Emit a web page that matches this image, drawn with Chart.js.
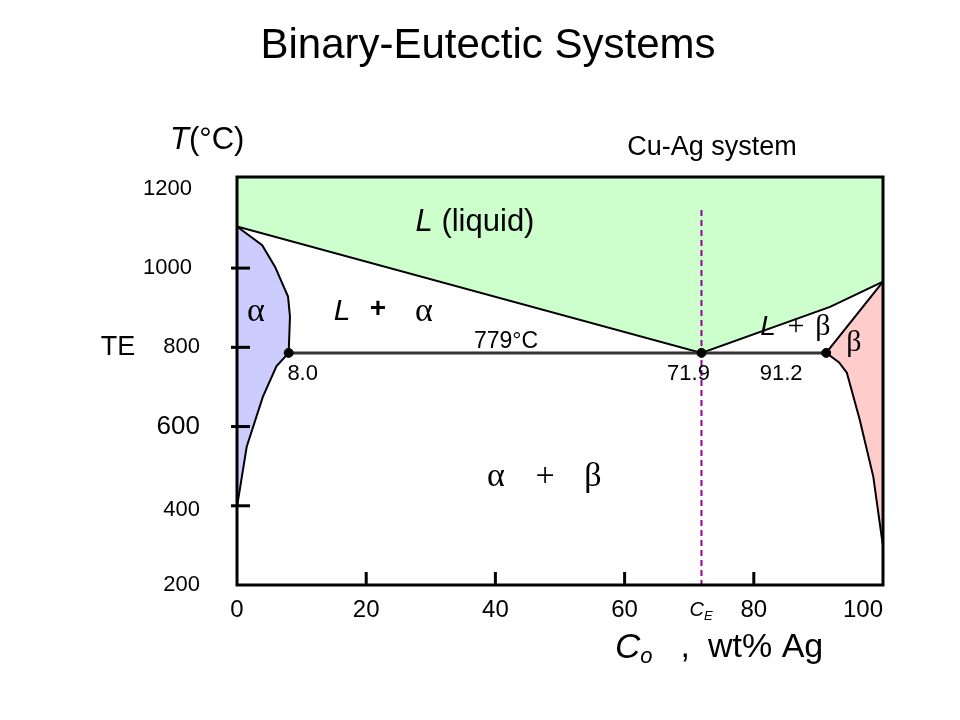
<!DOCTYPE html>
<html>
<head>
<meta charset="utf-8">
<script src="https://cdn.jsdelivr.net/npm/chart.js@4.4.0/dist/chart.umd.min.js"></script>
<style>
  html, body { margin: 0; padding: 0; background: #fff; }
</style>
</head>
<body>
<canvas id="phaseChart" width="960" height="720"></canvas>
<script>
// Cu-Ag phase diagram (wt% Ag, °C)
const liquidusWt = [0, 71.9, 91.8, 100];
const liquidusT = [1105, 786, 902, 966];

const alphaWt = [0, 3.9, 5.9, 7.9, 8.2, 8.0, 6.1, 4.0, 1.5, 0, 0];
const alphaT = [1105, 1058, 1003, 928, 878, 786, 752, 675, 549, 397, 1105];

const betaWt = [100, 91.2, 93.2, 94.4, 96.4, 98.5, 99.8, 100, 100];
const betaT = [966, 786, 762, 736, 617, 473, 321, 300, 966];

const eutecticWt = [8.0, 71.9, 91.2];
const eutecticT = 786;
const ceLineT = [1147, 200];

const xTicks = [0, 20, 40, 60, 80, 100];
const xTickMarks = [20, 40, 60, 80];
const yTicks = [200, 400, 600, 800, 1000, 1200];
const yTickMarks = [400, 600, 800, 1000];

const SANS = '"Liberation Sans", Arial, sans-serif';
const SERIF = '"Liberation Serif", "Times New Roman", serif';

function toPoints(xs, ys) {
    return xs.map((x, i) => ({ x: x, y: Array.isArray(ys) ? ys[i] : ys }));
}

// draws a row of text pieces with different fonts, centred on x
function drawRuns(ctx, x, y, runs, align) {
    let total = 0;
    runs.forEach(r => {
        ctx.font = r.font;
        r.w = ctx.measureText(r.text).width;
        total += r.w + (r.gap || 0);
    });
    let cx = align === 'left' ? x : x - total / 2;
    runs.forEach(r => {
        ctx.font = r.font;
        ctx.fillText(r.text, cx, y + (r.dy || 0));
        cx += r.w + (r.gap || 0);
    });
}

const diagramText = {
    id: 'diagramText',
    afterDraw(chart) {
        const ctx = chart.ctx;
        const area = chart.chartArea;
        const xs = chart.scales.x;
        const ys = chart.scales.y;
        ctx.save();
        ctx.fillStyle = '#000';
        ctx.strokeStyle = '#000';
        ctx.textBaseline = 'middle';
        ctx.textAlign = 'left';

        // frame
        ctx.lineWidth = 3;
        ctx.strokeRect(area.left, area.top, area.right - area.left, area.bottom - area.top);

        // tick marks
        yTickMarks.forEach(v => {
            const py = ys.getPixelForValue(v);
            ctx.beginPath();
            ctx.moveTo(area.left - 6, py);
            ctx.lineTo(area.left + 13, py);
            ctx.stroke();
        });
        xTickMarks.forEach(v => {
            const px = xs.getPixelForValue(v);
            ctx.beginPath();
            ctx.moveTo(px, area.bottom);
            ctx.lineTo(px, area.bottom - 13);
            ctx.stroke();
        });

        // tick labels
        ctx.textAlign = 'right';
        yTicks.forEach(v => {
            ctx.font = (v === 600 ? '26px ' : '22px ') + SANS;
            const right = v >= 1000 ? 192 : 200;
            ctx.fillText(String(v), right, ys.getPixelForValue(v) + (v === 400 ? 4 : 0));
        });
        xTicks.forEach((v, i) => {
            ctx.font = '24px ' + SANS;
            ctx.textAlign = i === xTicks.length - 1 ? 'right' : 'center';
            const px = i === xTicks.length - 1 ? area.right : xs.getPixelForValue(v);
            ctx.fillText(String(v), px, area.bottom + 25);
        });
        ctx.textAlign = 'left';

        // C_E under the dashed line
        drawRuns(ctx, xs.getPixelForValue(eutecticWt[1]) - 12, area.bottom + 25, [
            { text: 'C', font: 'italic 20px ' + SANS },
            { text: 'E', font: 'italic 13px ' + SANS, dy: 6 }
        ], 'left');

        // title and captions
        ctx.font = '42px ' + SANS;
        ctx.textAlign = 'center';
        ctx.fillText('Binary-Eutectic Systems', 488, 46);
        ctx.font = '27px ' + SANS;
        ctx.fillText('Cu-Ag system', 712, 148);
        ctx.fillText('TE', 118, 348);
        ctx.textAlign = 'left';

        drawRuns(ctx, 170, 140, [
            { text: 'T', font: 'italic 31px ' + SANS },
            { text: '(°C)', font: '31px ' + SANS }
        ], 'left');

        drawRuns(ctx, 615, 648, [
            { text: 'C', font: 'italic 35px ' + SANS },
            { text: 'o', font: 'italic 22px ' + SANS, dy: 9, gap: 28 },
            { text: ',', font: '34px ' + SANS, gap: 18 },
            { text: 'wt% Ag', font: '34px ' + SANS }
        ], 'left');

        // region labels
        drawRuns(ctx, 475, 222, [
            { text: 'L', font: 'italic 31px ' + SANS },
            { text: ' (liquid)', font: '31px ' + SANS }
        ]);
        ctx.textAlign = 'center';
        ctx.font = '34px ' + SERIF;
        ctx.fillText('α', 256, 312);
        ctx.font = 'italic 30px ' + SANS;
        ctx.fillText('L', 342, 312);
        ctx.font = 'bold 28px ' + SANS;
        ctx.fillText('+', 378, 309);
        ctx.font = '34px ' + SERIF;
        ctx.fillText('α', 424, 312);

        ctx.font = 'italic 28px ' + SANS;
        ctx.fillText('L', 768, 327);
        ctx.font = '30px ' + SERIF;
        ctx.fillText('+', 796, 327);
        ctx.fillText('β', 823, 327);
        ctx.fillText('β', 854, 343);

        ctx.font = '34px ' + SERIF;
        ctx.fillText('α', 496, 477);
        ctx.fillText('+', 545, 477);
        ctx.fillText('β', 593, 477);

        // eutectic numbers
        const ey = ys.getPixelForValue(eutecticT);
        ctx.font = '23px ' + SANS;
        ctx.fillText('779°C', 506, ey - 11);
        ctx.font = '22px ' + SANS;
        ctx.fillText(eutecticWt[0].toFixed(1), xs.getPixelForValue(eutecticWt[0]) + 14, ey + 21);
        ctx.fillText(eutecticWt[1].toFixed(1), xs.getPixelForValue(eutecticWt[1]) - 13, ey + 21);
        ctx.fillText(eutecticWt[2].toFixed(1), xs.getPixelForValue(eutecticWt[2]) - 45, ey + 21);

        ctx.restore();
    }
};

new Chart(document.getElementById('phaseChart'), {
    type: 'line',
    data: {
        datasets: [
            {
                data: toPoints(eutecticWt, eutecticT),
                showLine: false,
                pointRadius: 4.5,
                pointBackgroundColor: '#000',
                pointBorderColor: '#000',
                order: 1
            },
            {
                data: toPoints([eutecticWt[1], eutecticWt[1]], ceLineT),
                borderColor: '#990099',
                borderWidth: 2,
                borderDash: [6, 4],
                pointRadius: 0,
                order: 2
            },
            {
                data: toPoints([eutecticWt[0], eutecticWt[2]], eutecticT),
                borderColor: '#333',
                borderWidth: 3,
                pointRadius: 0,
                order: 3
            },
            {
                data: toPoints(alphaWt, alphaT),
                borderColor: '#000',
                borderWidth: 2,
                backgroundColor: '#ccccff',
                fill: 'shape',
                pointRadius: 0,
                order: 4
            },
            {
                data: toPoints(betaWt, betaT),
                borderColor: '#000',
                borderWidth: 2,
                backgroundColor: '#ffcccc',
                fill: 'shape',
                pointRadius: 0,
                order: 4
            },
            {
                data: toPoints(liquidusWt, liquidusT),
                borderColor: '#000',
                borderWidth: 2,
                backgroundColor: '#ccffcc',
                fill: 'end',
                pointRadius: 0,
                order: 5
            }
        ]
    },
    options: {
        responsive: false,
        animation: false,
        devicePixelRatio: 1,
        layout: { padding: { left: 237, top: 177, right: 77, bottom: 135 } },
        plugins: { legend: { display: false }, tooltip: { enabled: false } },
        elements: { line: { tension: 0 } },
        scales: {
            x: { type: 'linear', min: 0, max: 100, display: false },
            y: { type: 'linear', min: 200, max: 1230, display: false }
        }
    },
    plugins: [diagramText]
});
</script>
</body>
</html>
